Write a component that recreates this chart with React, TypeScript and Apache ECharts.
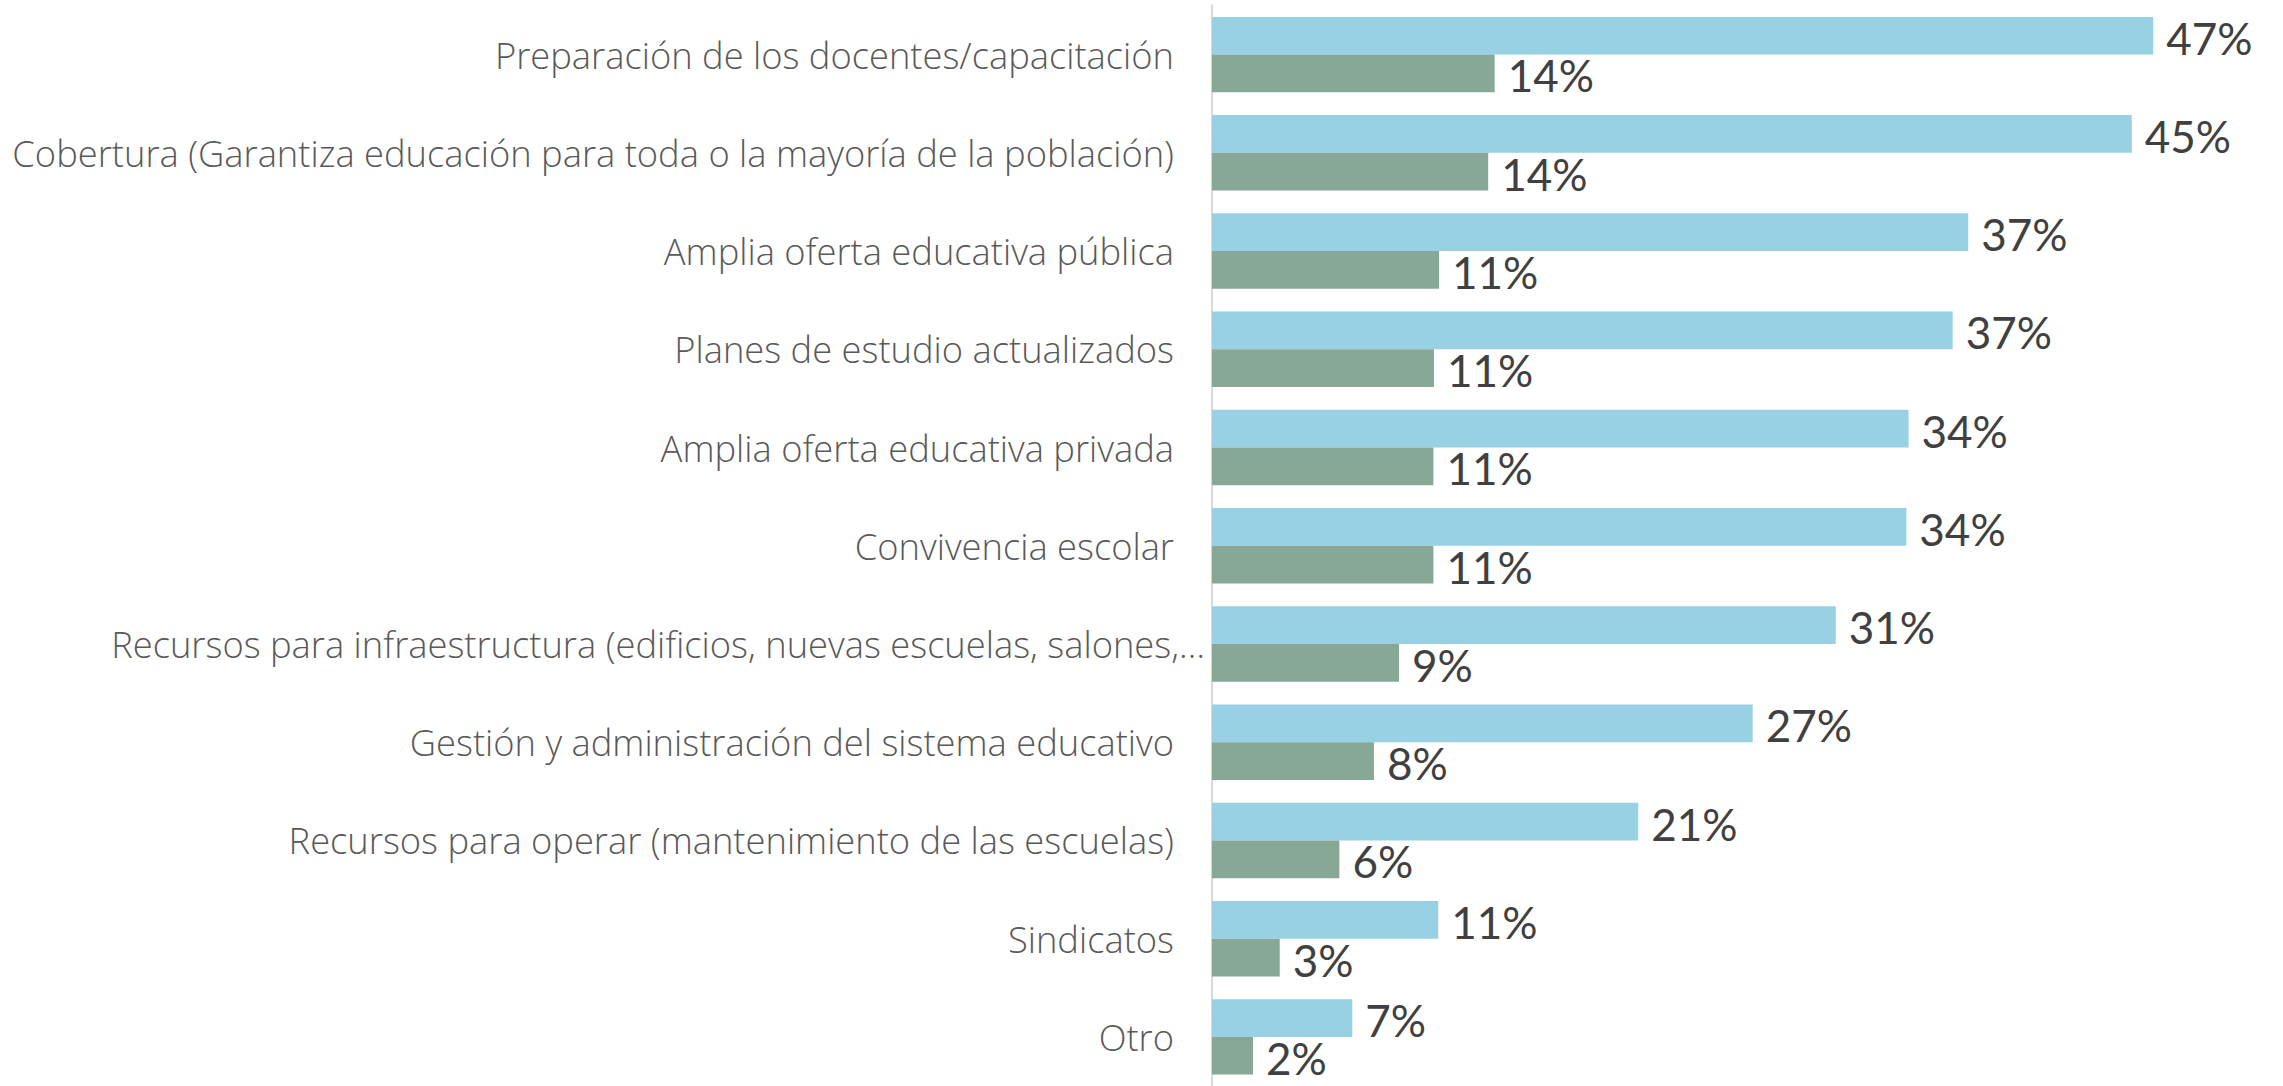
import React, { useEffect, useRef } from "react";
import * as echarts from "echarts";

const categories: string[] = [
  "Preparación de los docentes/capacitación",
  "Cobertura (Garantiza educación para toda o la mayoría de la población)",
  "Amplia oferta educativa pública",
  "Planes de estudio actualizados",
  "Amplia oferta educativa privada",
  "Convivencia escolar",
  "Recursos para infraestructura (edificios, nuevas escuelas, salones,…",
  "Gestión y administración del sistema educativo",
  "Recursos para operar (mantenimiento de las escuelas)",
  "Sindicatos",
  "Otro",
];

const truncatedLabel = "Recursos para infraestructura (edificios, nuevas escuelas, salones,…";

const seriesBlue: number[] = [46.55, 45.49, 37.4, 36.63, 34.45, 34.34, 30.85, 26.74, 21.08, 11.19, 6.94];
const seriesGreen: number[] = [13.98, 13.66, 11.23, 10.98, 10.95, 10.95, 9.25, 8.01, 6.3, 3.35, 2.03];

const xMin = 0;
const xMax = 50;

export default function App() {
  const ref = useRef<HTMLDivElement>(null);

  useEffect(() => {
    if (!ref.current) return;
    const chart = echarts.init(ref.current, undefined, { renderer: "svg" });
    const valueLabel = {
      show: true,
      position: "right" as const,
      distance: 13,
      offset: [0, 2],
      color: "#404040",
      fontFamily: "Lato",
      fontSize: 44,
      fontWeight: 400 as const,
      formatter: (p: any) => Math.round(p.value) + "%",
    };
    const catStyle = {
      color: "#595959",
      fontFamily: "Open Sans",
      fontWeight: 300,
      fontSize: 36.3,
    };
    chart.setOption({
      animation: false,
      backgroundColor: "#ffffff",
      grid: { left: 1212, top: 5.5, width: 1011, height: 1088 },
      xAxis: {
        type: "value",
        min: xMin,
        max: xMax,
        show: false,
      },
      yAxis: {
        type: "category",
        inverse: true,
        data: categories,
        axisLine: { show: true, lineStyle: { color: "#D9D9D9", width: 2 } },
        axisTick: { show: false },
        splitLine: { show: false },
        axisLabel: {
          margin: 7,
          formatter: (v: string) => (v === truncatedLabel ? `{b|${v}}` : `{a|${v}}`),
          rich: {
            a: { ...catStyle, padding: [0, 31, 0, 0] },
            b: { ...catStyle },
          },
        },
      },
      series: [
        {
          type: "bar",
          data: seriesBlue,
          barGap: "0%",
          barCategoryGap: "23.2%",
          itemStyle: { color: "#97D1E3" },
          label: valueLabel,
        },
        {
          type: "bar",
          data: seriesGreen,
          barGap: "0%",
          barCategoryGap: "23.2%",
          itemStyle: { color: "#87A897" },
          label: valueLabel,
        },
      ],
    });
    return () => chart.dispose();
  }, []);

  return (
    <div
      ref={ref}
      style={{ position: "absolute", left: 0, top: 0, width: 2283, height: 1086 }}
    />
  );
}
